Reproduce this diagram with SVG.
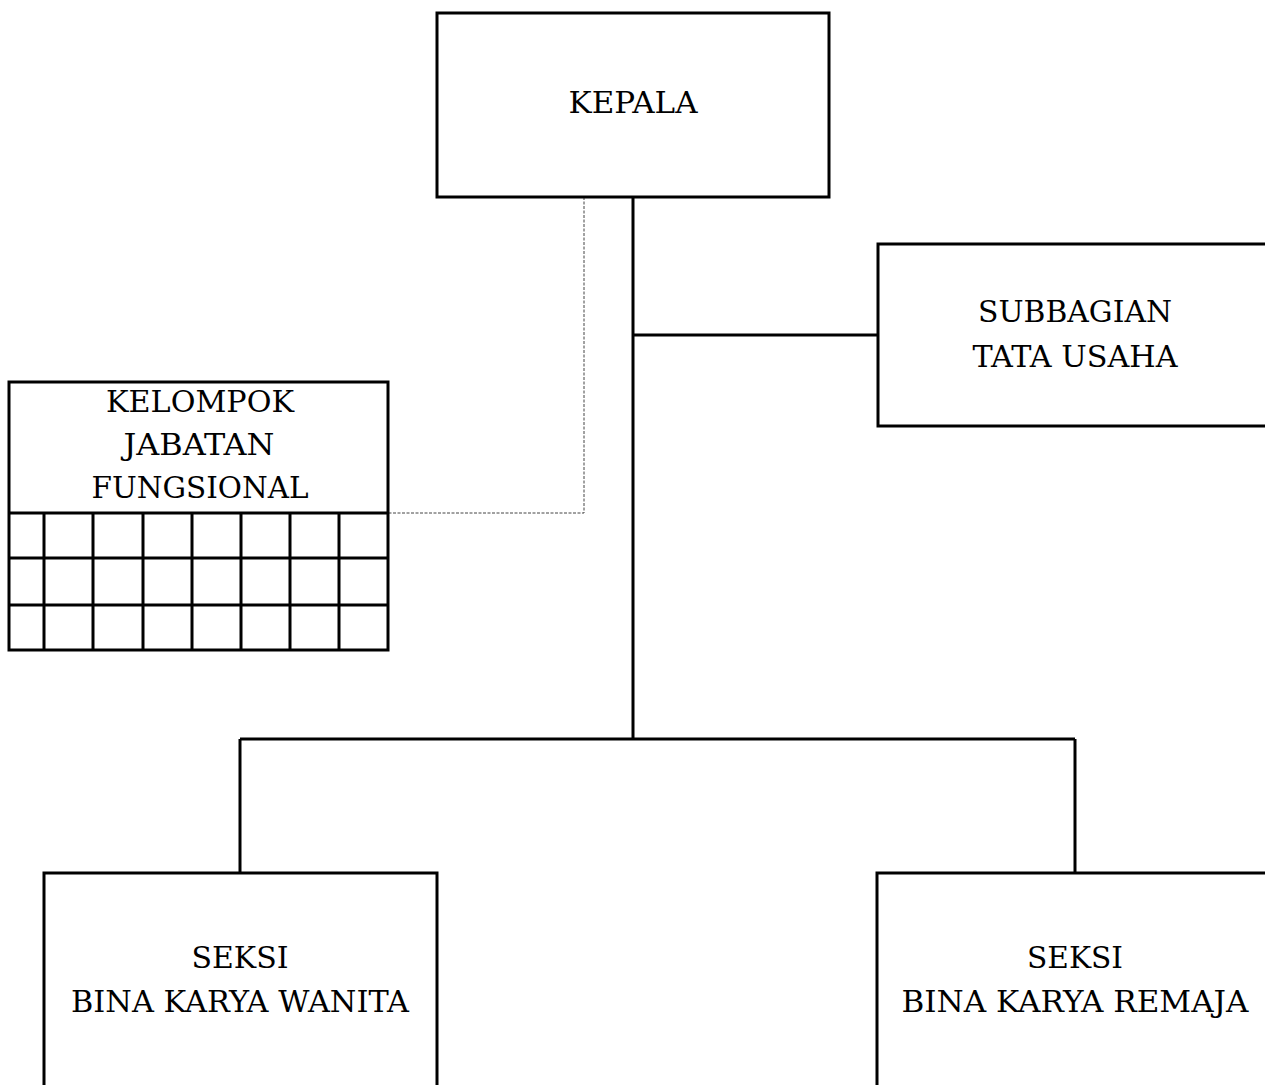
<svg xmlns="http://www.w3.org/2000/svg" width="1265" height="1085" viewBox="0 0 1265 1085">
<style>
.box{fill:#fff;stroke:#000;stroke-width:3}
.ln{fill:none;stroke:#000;stroke-width:3}
.dash{fill:none;stroke:#444;stroke-width:1;stroke-dasharray:3 1.5}
text{font-family:"DejaVu Serif","Liberation Serif",serif;font-size:29px;fill:#000;text-anchor:middle}
</style>
<rect width="1265" height="1085" fill="#fff"/>
<g id="connectors">
<path class="ln" d="M633 197 V739"/>
<path class="ln" d="M633 335 H878"/>
<path class="ln" d="M240 739 H1075"/>
<path class="ln" d="M240 739 V873"/>
<path class="ln" d="M1075 739 V873"/>
<path class="dash" d="M584 197 V513 H388"/>
</g>
<g id="kepala">
<rect class="box" x="437" y="13" width="392" height="184"/>
<text x="633" y="113" textLength="129" lengthAdjust="spacingAndGlyphs">KEPALA</text>
</g>
<g id="subbagian">
<rect class="box" x="878" y="244" width="400" height="182"/>
<text x="1075" y="322" textLength="194" lengthAdjust="spacingAndGlyphs">SUBBAGIAN</text>
<text x="1075" y="367" textLength="205" lengthAdjust="spacingAndGlyphs">TATA USAHA</text>
</g>
<g id="kelompok">
<rect class="box" x="9" y="382" width="379" height="268"/>
<path class="ln" d="M9 513 H388 M9 558 H388 M9 605 H388 M44 513 V650 M93 513 V650 M143 513 V650 M192 513 V650 M241 513 V650 M290 513 V650 M339 513 V650"/>
<text x="200" y="412" textLength="188" lengthAdjust="spacingAndGlyphs">KELOMPOK</text>
<text x="199" y="455" textLength="151" lengthAdjust="spacingAndGlyphs">JABATAN</text>
<text x="200" y="498" textLength="217" lengthAdjust="spacingAndGlyphs">FUNGSIONAL</text>
</g>
<g id="seksi-wanita">
<rect class="box" x="44" y="873" width="393" height="230"/>
<text x="240" y="968" textLength="97" lengthAdjust="spacingAndGlyphs">SEKSI</text>
<text x="240" y="1012" textLength="338" lengthAdjust="spacingAndGlyphs">BINA KARYA WANITA</text>
</g>
<g id="seksi-remaja">
<rect class="box" x="877" y="873" width="400" height="230"/>
<text x="1075" y="968" textLength="96" lengthAdjust="spacingAndGlyphs">SEKSI</text>
<text x="1075" y="1012" textLength="347" lengthAdjust="spacingAndGlyphs">BINA KARYA REMAJA</text>
</g>
</svg>
